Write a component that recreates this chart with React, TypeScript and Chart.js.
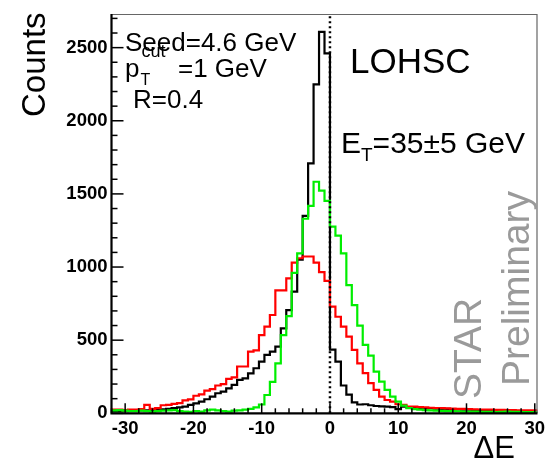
import React, { useEffect, useRef } from 'react';
import { Chart, registerables } from 'chart.js';

Chart.register(...registerables);

// ---- data ----
const BIN_START = -32;
const BIN_WIDTH = 0.8;
const X_MIN = -32;
const X_MAX = 30.4;
const Y_MIN = 0;
const Y_MAX = 2730;

// counts per bin, bins of width 0.8 starting at -32
const blackCounts = [
  15, 15, 15, 18, 18, 20, 20, 22, 25, 27,
  30, 35, 41, 46, 57, 68, 80, 96, 114, 137,
  148, 171, 194, 228, 239, 273, 308, 353, 399, 421,
  456, 581, 706, 832, 1050, 1350, 1709, 2249, 2608, 2461,
  435, 353, 190, 128, 75, 60, 62, 55, 50, 48,
  45, 42, 28, 45, 40, 38, 36, 34, 35, 32,
  30, 30, 28, 27, 25, 25, 22, 22, 20, 20,
  18, 18, 17, 16, 15, 15, 14, 14,
];

const redCounts = [
  25, 25, 22, 25, 25, 28, 57, 30, 35, 55,
  57, 65, 70, 88, 95, 120, 130, 155, 165, 190,
  200, 235, 245, 320, 320, 421, 430, 535, 592, 672,
  840, 840, 923, 1030, 1060, 1072, 1072, 1030, 965, 905,
  729, 660, 592, 524, 433, 342, 274, 206, 160, 114,
  91, 80, 62, 57, 45, 45, 42, 40, 38, 36,
  35, 33, 32, 30, 30, 28, 27, 26, 25, 25,
  24, 23, 22, 22, 21, 20, 20, 20,
];

const greenCounts = [
  20, 22, 18, 15, 15, 18, 15, 12, 15, 18,
  20, 22, 15, 12, 10, 15, 12, 20, 25, 20,
  15, 12, 18, 20, 25, 30, 41, 60, 125, 215,
  341, 535, 665, 960, 1094, 1330, 1418, 1583, 1522, 1453,
  1276, 1215, 1094, 877, 740, 600, 468, 395, 285, 216,
  160, 114, 80, 52, 36, 28, 25, 22, 20, 18,
  17, 15, 15, 14, 12, 12, 12, 10, 10, 10,
  8, 10, 12, 10, 10, 8, 8, 8,
];

const X_MAJOR_TICKS = [-30, -20, -10, 0, 10, 20, 30];
const X_MINOR_STEP = 2;
const Y_MAJOR_TICKS = [0, 500, 1000, 1500, 2000, 2500];
const Y_MINOR_STEP = 100;
const ZERO_LINE = 0;

const FONT = '"Liberation Sans", Arial, Helvetica, sans-serif';

function histPoints(counts: number[]) {
  const pts: { x: number; y: number }[] = [];
  counts.forEach((c, i) => {
    const lo = BIN_START + i * BIN_WIDTH;
    pts.push({ x: lo, y: c }, { x: lo + BIN_WIDTH, y: c });
  });
  return pts;
}

function text(
  ctx: CanvasRenderingContext2D,
  s: string,
  x: number,
  y: number,
  size: number,
  opts: { bold?: boolean; color?: string; align?: CanvasTextAlign; baseline?: CanvasTextBaseline; rotate?: number } = {}
) {
  ctx.save();
  ctx.font = `${opts.bold ? 'bold ' : ''}${size}px ${FONT}`;
  ctx.fillStyle = opts.color || '#000';
  ctx.textAlign = opts.align || 'left';
  ctx.textBaseline = opts.baseline || 'alphabetic';
  ctx.translate(x, y);
  if (opts.rotate) ctx.rotate(opts.rotate);
  ctx.fillText(s, 0, 0);
  const w = ctx.measureText(s).width;
  ctx.restore();
  return w;
}

const decorPlugin = {
  id: 'decor',
  afterDatasetsDraw(chart: any) {
    const { ctx, chartArea: a, scales } = chart;
    const xs = scales.x;
    const ys = scales.y;
    ctx.save();
    // frame
    ctx.strokeStyle = '#666';
    ctx.lineWidth = 1.2;
    ctx.beginPath();
    ctx.moveTo(a.left, a.top + 0.5);
    ctx.lineTo(a.right - 0.5, a.top + 0.5);
    ctx.lineTo(a.right - 0.5, a.bottom);
    ctx.stroke();
    ctx.strokeStyle = '#000';
    ctx.lineWidth = 2.2;
    ctx.beginPath();
    ctx.moveTo(a.left, a.top);
    ctx.lineTo(a.left, a.bottom);
    ctx.lineTo(a.right, a.bottom);
    ctx.stroke();

    // y ticks (inside)
    ctx.lineWidth = 1.5;
    for (let v = Y_MIN; v <= Y_MAX; v += Y_MINOR_STEP) {
      const py = ys.getPixelForValue(v);
      const len = Y_MAJOR_TICKS.includes(v) ? 12 : 6;
      ctx.beginPath();
      ctx.moveTo(a.left, py);
      ctx.lineTo(a.left + len, py);
      ctx.stroke();
    }
    // x ticks (inside)
    for (let v = Math.ceil(X_MIN / X_MINOR_STEP) * X_MINOR_STEP; v <= X_MAX; v += X_MINOR_STEP) {
      const px = xs.getPixelForValue(v);
      const len = X_MAJOR_TICKS.includes(v) ? 10 : 5;
      ctx.beginPath();
      ctx.moveTo(px, a.bottom);
      ctx.lineTo(px, a.bottom - len);
      ctx.stroke();
    }
    ctx.restore();

    // tick labels
    Y_MAJOR_TICKS.forEach((v) => {
      text(ctx, String(v), a.left - 4, ys.getPixelForValue(v), 18.5, { bold: true, align: 'right', baseline: 'middle' });
    });
    X_MAJOR_TICKS.forEach((v) => {
      text(ctx, String(v), xs.getPixelForValue(v), a.bottom + 6, 18.5, { bold: true, align: 'center', baseline: 'top' });
    });

    // axis titles
    text(ctx, 'Counts', 45, 117, 33, { rotate: -Math.PI / 2 });
    text(ctx, '\u0394E', 515, 458, 31, { align: 'right' });

    // annotations
    text(ctx, 'Seed=4.6 GeV', 125, 51, 26);
    const pw = text(ctx, 'p', 125, 77, 26);
    text(ctx, 'T', 125 + pw + 1, 85, 16);
    text(ctx, 'cut', 125 + pw + 2, 57, 18);
    text(ctx, '=1 GeV', 178, 77, 26);
    text(ctx, 'R=0.4', 133, 108, 26);

    text(ctx, 'LOHSC', 350, 73, 35);
    const ew = text(ctx, 'E', 341, 153, 30);
    const tw = text(ctx, 'T', 341 + ew, 161, 19);
    text(ctx, '=35\u00b15 GeV', 341 + ew + tw, 153, 30);

    text(ctx, 'STAR', 481, 399, 39, { color: '#9a9a9a', rotate: -Math.PI / 2 });
    text(ctx, 'Preliminary', 529, 386, 39, { color: '#9a9a9a', rotate: -Math.PI / 2 });
  },
};

export default function App() {
  const ref = useRef<HTMLCanvasElement | null>(null);

  useEffect(() => {
    if (!ref.current) return;
    const lineDs = (label: string, counts: number[], color: string, order: number) => ({
      label,
      data: histPoints(counts),
      borderColor: color,
      borderWidth: 2.2,
      pointRadius: 0,
      fill: false,
      tension: 0,
      order,
      clip: 0,
    });
    const chart = new Chart(ref.current, {
      type: 'line',
      data: {
        datasets: [
          {
            label: 'zero',
            data: [
              { x: ZERO_LINE, y: Y_MIN },
              { x: ZERO_LINE, y: Y_MAX },
            ],
            borderColor: '#000',
            borderWidth: 2.5,
            borderDash: [2, 3],
            pointRadius: 0,
            fill: false,
            order: 0,
            clip: 0,
          },
          lineDs('green', greenCounts, '#00ee00', 1),
          lineDs('red', redCounts, '#ff0000', 2),
          lineDs('black', blackCounts, '#000000', 3),
        ] as any,
      },
      options: {
        animation: false,
        responsive: false,
        devicePixelRatio: 1,
        layout: { padding: { left: 111.5, right: 8.5, top: 14, bottom: 47.7 } },
        plugins: { legend: { display: false }, tooltip: { enabled: false } },
        scales: {
          x: { type: 'linear', min: X_MIN, max: X_MAX, display: false },
          y: { type: 'linear', min: Y_MIN, max: Y_MAX, display: false },
        },
      } as any,
      plugins: [decorPlugin],
    });
    return () => chart.destroy();
  }, []);

  return (
    <div style={{ position: 'fixed', left: 0, top: 0, width: 546, height: 461, background: '#fff' }}>
      <canvas ref={ref} width={546} height={461} style={{ display: 'block' }} />
    </div>
  );
}
